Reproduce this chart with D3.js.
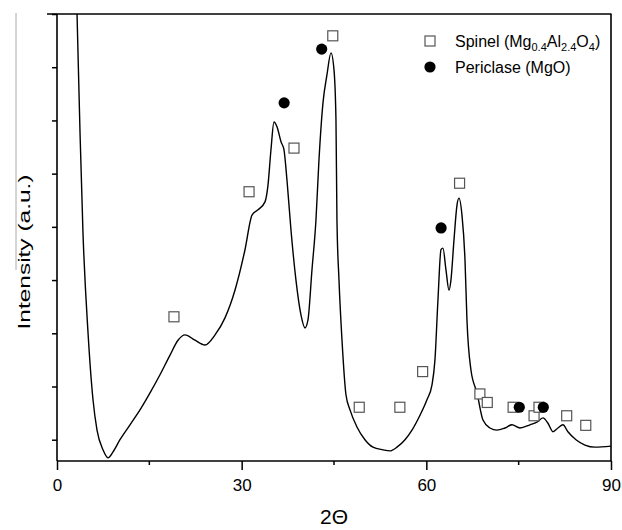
<!DOCTYPE html>
<html>
<head>
<meta charset="utf-8">
<script src="https://cdn.jsdelivr.net/npm/d3@7"></script>
<style>
  body { margin: 0; background: #fff; }
  text { font-family: "Liberation Sans", Arial, sans-serif; fill: #000; }
</style>
</head>
<body>
<div id="chart"></div>
<script>
// XRD pattern (2theta, intensity in tick units)
const twoTheta = [2.9, 3.25, 3.74, 4.22, 5.04, 5.85, 6.5, 7.47, 8.28, 9.1, 10.23, 11.86, 13.48, 15.11, 16.73, 18.36,
  19.66, 20.79, 22.42, 24.04, 25.67, 27.29, 28.91, 30.54, 31.68, 32.65, 33.79, 34.28, 34.76, 35.25, 35.74, 36.39,
  36.87, 37.36, 38.01, 38.82, 39.64, 40.29, 40.77, 41.42, 42.07, 42.56, 43.21, 43.86, 44.51, 45.0, 45.32, 45.48,
  45.81, 46.3, 46.95, 47.6, 48.73, 50.03, 51.33, 52.96, 54.09, 55.23, 56.53, 57.67, 58.97, 60.1, 60.92, 61.4,
  61.89, 62.38, 62.7, 63.19, 63.68, 64.0, 64.49, 64.98, 65.3, 65.79, 66.28, 66.6, 67.25, 68.23, 69.2, 70.34,
  71.47, 72.77, 73.91, 75.21, 76.84, 77.97, 78.95, 79.76, 80.57, 81.38, 82.2, 83.0, 84.31, 85.77, 87.4, 90.0];
const intensity = [9.5, 8.02, 5.77, 3.89, 2.01, 0.75, 0.18, -0.19, -0.34, -0.23, 0.0, 0.28, 0.56, 0.88, 1.22, 1.59,
  1.87, 1.97, 1.87, 1.78, 1.97, 2.29, 2.81, 3.57, 4.22, 4.32, 4.47, 4.79, 5.45, 5.97, 5.88, 5.6,
  5.45, 4.88, 3.94, 3.0, 2.34, 2.1, 2.25, 3.19, 4.13, 5.26, 6.33, 6.86, 7.27, 6.95, 6.01, 4.13,
  3.0, 1.87, 0.84, 0.56, 0.24, 0.0, -0.14, -0.19, -0.21, -0.14, 0.0, 0.18, 0.46, 0.75, 1.03, 1.5,
  2.63, 3.57, 3.6, 3.19, 2.81, 3.0, 3.75, 4.41, 4.54, 4.22, 3.38, 2.25, 1.31, 0.88, 0.37, 0.22,
  0.18, 0.22, 0.28, 0.22, 0.28, 0.33, 0.41, 0.31, 0.15, 0.22, 0.28, 0.15, 0.0, -0.1, -0.14, -0.12];

// phase markers
const spinelX = [19.0, 31.2, 38.5, 44.8, 49.1, 55.7, 59.4, 65.4, 68.7, 69.9, 74.1, 77.5, 78.3, 82.8, 85.9];
const spinelY = [2.31, 4.66, 5.48, 7.59, 0.61, 0.61, 1.28, 4.82, 0.86, 0.70, 0.61, 0.45, 0.61, 0.45, 0.27];
const periclaseX = [36.9, 43.0, 62.4, 75.1, 79.0];
const periclaseY = [6.33, 7.34, 3.98, 0.61, 0.61];

const xMajorTicks = [0, 30, 60, 90];
const xMinorTicks = [15, 45, 75];
const yTicks = [0, 1, 2, 3, 4, 5, 6, 7, 8];

const svgWidth = 622;
const svgHeight = 530;
const margin = { top: 14, right: 11, bottom: 69, left: 57 };
const width = svgWidth - margin.left - margin.right;
const height = svgHeight - margin.top - margin.bottom;

const svg = d3.select('#chart')
    .append('svg')
    .attr('width', svgWidth)
    .attr('height', svgHeight)
    .style('background', '#fff');

// faint scan line at the far left of the original figure
svg.append('line')
    .attr('x1', 16).attr('x2', 16)
    .attr('y1', 13).attr('y2', 270)
    .attr('stroke', '#aaa')
    .attr('stroke-width', 1);

const g = svg.append('g')
    .attr('transform', `translate(${margin.left},${margin.top})`);

var xScale = d3.scaleLinear().domain([0, 90]).range([0, width]);
var yScale = d3.scaleLinear().domain([-0.4, 8]).range([height, 0]);

g.append('clipPath').attr('id', 'plotClip')
    .append('rect')
    .attr('x', 0).attr('y', 0)
    .attr('width', width).attr('height', height);

// the pattern
const pts = twoTheta.map((d, i) => [d, intensity[i]]);
const line = d3.line()
    .x(d => xScale(d[0]))
    .y(d => yScale(d[1]))
    .curve(d3.curveMonotoneX);

g.append('path')
    .datum(pts)
    .attr('clip-path', 'url(#plotClip)')
    .attr('d', line)
    .attr('fill', 'none')
    .attr('stroke', '#000')
    .attr('stroke-width', 1.4)
    .attr('stroke-linejoin', 'round');

// x axis
var xAxis = d3.axisBottom(xScale).tickValues(xMajorTicks).tickSize(9).tickPadding(9).tickFormat(d3.format('d'));
const xg = g.append('g')
    .attr('transform', 'translate(0,' + height + ')')
    .call(xAxis);
xg.select('.domain').remove();
xg.selectAll('line').attr('stroke-width', 1.5);
xg.selectAll('text').style('font-size', '17px').attr('font-family', null);

g.append('g')
    .attr('transform', 'translate(0,' + height + ')')
    .selectAll('line')
    .data(xMinorTicks)
    .enter().append('line')
    .attr('x1', d => xScale(d)).attr('x2', d => xScale(d))
    .attr('y1', 0).attr('y2', 4)
    .attr('stroke', '#000')
    .attr('stroke-width', 1.5);

// y axis, no labels
var yAxis = d3.axisLeft(yScale).tickValues(yTicks).tickSize(5).tickFormat('');
const yg = g.append('g').call(yAxis);
yg.select('.domain').remove();
yg.selectAll('line').attr('stroke-width', 1.5);

// frame
g.append('line').attr('x1', -10).attr('x2', width + 0.5).attr('y1', 0).attr('y2', 0)
    .attr('stroke', '#000').attr('stroke-width', 1.6);
g.append('line').attr('x1', 0).attr('x2', width + 0.5).attr('y1', height).attr('y2', height)
    .attr('stroke', '#000').attr('stroke-width', 1.6);
g.append('line').attr('x1', 0).attr('x2', 0).attr('y1', 0).attr('y2', height)
    .attr('stroke', '#000').attr('stroke-width', 1.6);
g.append('line').attr('x1', width).attr('x2', width).attr('y1', 0).attr('y2', height)
    .attr('stroke', '#000').attr('stroke-width', 1.6);

// markers
g.selectAll('.spinel')
    .data(spinelX)
    .enter().append('rect')
    .attr('class', 'spinel')
    .attr('x', d => xScale(d) - 5)
    .attr('y', (d, i) => yScale(spinelY[i]) - 5)
    .attr('width', 10)
    .attr('height', 10)
    .attr('fill', '#fff')
    .attr('stroke', '#555')
    .attr('stroke-width', 1.2);

g.selectAll('.periclase')
    .data(periclaseX)
    .enter().append('circle')
    .attr('class', 'periclase')
    .attr('cx', d => xScale(d))
    .attr('cy', (d, i) => yScale(periclaseY[i]))
    .attr('r', 5.6)
    .attr('fill', '#000');

// legend
svg.append('rect')
    .attr('x', 425).attr('y', 36).attr('width', 10).attr('height', 10)
    .attr('fill', '#fff').attr('stroke', '#555').attr('stroke-width', 1.2);
const t1 = svg.append('text').attr('x', 455).attr('y', 47).style('font-size', '16px');
t1.append('tspan').text('Spinel (Mg');
t1.append('tspan').attr('dy', 4).style('font-size', '11px').text('0.4');
t1.append('tspan').attr('dy', -4).text('Al');
t1.append('tspan').attr('dy', 4).style('font-size', '11px').text('2.4');
t1.append('tspan').attr('dy', -4).text('O');
t1.append('tspan').attr('dy', 4).style('font-size', '11px').text('4');
t1.append('tspan').attr('dy', -4).text(')');

svg.append('circle')
    .attr('cx', 430).attr('cy', 67).attr('r', 5.6).attr('fill', '#000');
svg.append('text').attr('x', 455).attr('y', 73).style('font-size', '16px').text('Periclase (MgO)');

// axis titles
svg.append('text')
    .attr('x', margin.left + width / 2)
    .attr('y', 524)
    .attr('text-anchor', 'middle')
    .style('font-size', '21px')
    .text('2Θ');

svg.append('text')
    .attr('transform', 'translate(30,252) rotate(-90)')
    .attr('text-anchor', 'middle')
    .attr('textLength', 155)
    .attr('lengthAdjust', 'spacingAndGlyphs')
    .style('font-size', '17px')
    .text('Intensity (a.u.)');
</script>
</body>
</html>
